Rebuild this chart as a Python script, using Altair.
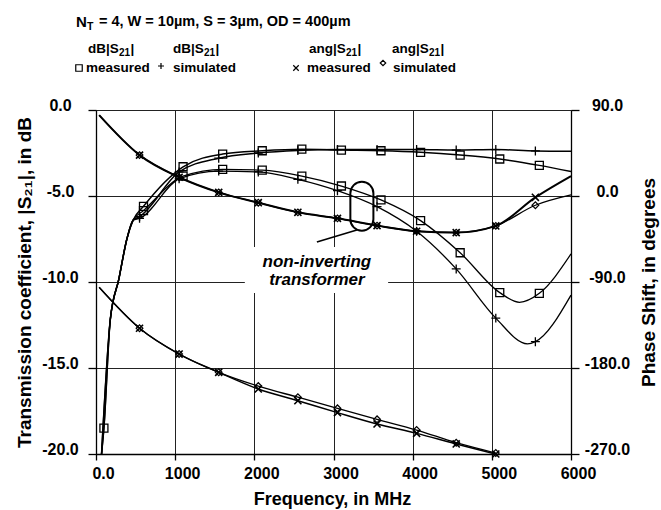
import altair as alt
import pandas as pd

# ---------------- data ----------------
x_ticks = [0, 1000, 2000, 3000, 4000, 5000, 6000]
db_ticks = [0, -5, -10, -15, -20]
deg_ticks = [90, 0, -90, -180, -270]

# measured / simulated frequencies (MHz)
meas_f = [100, 600, 1100, 1600, 2100, 2600, 3100, 3600, 4100, 4600, 5100, 5600]
sim_f = [550, 1050, 1550, 2050, 2550, 3050, 3550, 4050, 4550, 5050, 5550]

# low-frequency rise shared by the magnitude curves (dB)
rise_f = [70, 180, 290, 390, 470]
rise_db = [-20.0, -12.2, -9.8, -7.5, -6.4]

# dB|S21| measured (squares)
magA_meas = [-18.5, -5.6, -3.3, -2.56, -2.37, -2.28, -2.33, -2.37, -2.46, -2.62, -2.85, -3.22]
magB_meas = [-5.85, -3.85, -3.45, -3.5, -3.84, -4.42, -5.23, -6.43, -8.3, -10.62, -10.66]
magA_meas_end = [6000, -3.58]
magB_meas_extra = [[5350, -11.18], [6000, -8.37]]

# dB|S21| simulated (+)
magA_sim = [-6.2, -3.6, -2.8, -2.5, -2.35, -2.3, -2.3, -2.3, -2.33, -2.3, -2.38]
magB_sim = [-6.3, -4.0, -3.55, -3.6, -4.03, -4.69, -5.62, -7.05, -9.24, -12.1, -13.47]
magA_sim_end = [6000, -2.4]
magB_sim_extra = [[5450, -13.6], [6000, -10.76]]

# ang|S21| (degrees), non-inverting (upper) and inverting (lower)
ph_start_f = 40
up_start = 84.6
up_meas = [42.8, 19.6, 3.8, -7.0, -17.1, -23.4, -31.0, -36.9, -38.3, -31.3, -1.4]
up_sim = [42.8, 19.6, 3.8, -7.0, -17.1, -23.4, -31.0, -36.9, -38.3, -31.3, -9.7]
up_meas_end = 20.9
up_sim_end = 1.1
lo_start = -95.6
lo_meas = [-138.4, -165.4, -184.5, -202.0, -214.2, -226.7, -238.6, -248.4, -259.5, -270.0]
lo_sim = [-138.4, -165.4, -184.5, -198.9, -210.6, -222.2, -233.7, -244.9, -258.2, -269.0]

# annotation (data coordinates: MHz, dB)
note_box_f = [1880, 3690]
note_box_db = [-7.97, -10.64]
oval_f = [3213, 3504]
oval_db = [-4.17, -7.02]
pointer_f = [2790, 3295]
pointer_db = [-7.67, -6.98]
note_f = 2790
note_lines = ["non-inverting", "transformer"]
note_db = [-8.84, -9.9]

FONT = "Liberation Sans"
W, H = 475, 344

xs = alt.Scale(domain=[0, 6000], nice=False, zero=False)
ys = alt.Scale(domain=[-20, 0], nice=False, zero=False)
ys2 = alt.Scale(domain=[-270, 90], nice=False, zero=False)

common_axis = dict(
    domainColor="black", domainWidth=1.3, tickColor="black", tickWidth=1.3,
    labelFont=FONT, labelFontSize=16, labelFontWeight="bold", labelColor="black",
    titleFont=FONT, titleFontSize=19, titleFontWeight="bold", titleColor="black",
    gridColor="#222222", gridWidth=1, gridOpacity=1, labelFlush=False,
)

x_axis = alt.Axis(
    values=x_ticks, grid=True, tickSize=6, labelPadding=5, labelOffset=7,
    labelExpr="datum.value == 0 ? '0.0' : '' + datum.value",
    title="Frequency, in MHz", titleX=236, titleY=45, titleBaseline="middle",
    titleAlign="center", **{**common_axis, "titleFontSize": 18})
y_axis_left = alt.Axis(
    values=db_ticks, grid=True, orient="left", tickSize=8, labelPadding=28,
    labelAlign="center", labelBaseline="alphabetic",
    labelExpr="datum.value == 0 ? '0.0' : datum.value + '.0'",
    title="Transmission coefficient, |S₂₁|, in dB", titleX=-72, titleY=172,
    titleAngle=270, titleBaseline="middle", titleAlign="center", **common_axis)
y_axis_right = alt.Axis(
    values=deg_ticks, grid=False, orient="right", tickSize=8, labelPadding=28,
    labelAlign="center", labelBaseline="alphabetic",
    labelExpr="datum.value == 0 ? '0.0' : datum.value + '.0'",
    title="Phase Shift, in degrees", titleX=77, titleY=172,
    titleAngle=270, titleBaseline="middle", titleAlign="center", **common_axis)


def X(field):
    return alt.X(field, scale=xs, axis=x_axis)


def Y(field, right=False):
    if right:
        return alt.Y(field, scale=ys2, axis=y_axis_right)
    return alt.Y(field, scale=ys, axis=y_axis_left)


def df(fs, vs):
    return pd.DataFrame({"f": fs, "v": vs})


def line(d, right=False, sw=1.4):
    return alt.Chart(d).mark_line(color="black", strokeWidth=sw, interpolate="monotone").encode(
        x=X("f:Q"), y=Y("v:Q", right), order="f:Q")


def pts(d, shape, size, sw=1.3, right=False):
    return alt.Chart(d).mark_point(shape=shape, size=size, filled=False, color="black",
                                   strokeWidth=sw, opacity=1).encode(
        x=X("f:Q"), y=Y("v:Q", right))


one = pd.DataFrame({"k": [0]})


def txt(s, x, y, size=13.5, align="left", style="normal"):
    return alt.Chart(one).mark_text(text=s, font=FONT, fontSize=size, fontWeight="bold",
                                    fontStyle=style, align=align, baseline="middle",
                                    color="black").encode(x=alt.value(x), y=alt.value(y))


def s21(prefix, x, y, pw):
    """label like dB|S21| with a real subscript; pw = width of the prefix."""
    return [txt(prefix, x, y), txt("21", x + pw, y + 4, 10), txt("|", x + pw + 11.5, y)]


def sym(shape, x, y, size, sw=1.2):
    return alt.Chart(one).mark_point(shape=shape, size=size, filled=False, color="black",
                                     strokeWidth=sw, opacity=1).encode(x=alt.value(x), y=alt.value(y))


PLUS = "M-1,0L1,0M0,-1L0,1"
CROSS = "M-1,-1L1,1M-1,1L1,-1"


def seg_df(f, v):
    return pd.DataFrame({"f": [f[0]], "f2": [f[1]], "v": [v[0]], "v2": [v[1]]})


# ---------------- left (dB) group ----------------
box = alt.Chart(seg_df(note_box_f, note_box_db)).mark_rect(color="white").encode(
    x=X("f:Q"), x2="f2:Q", y=Y("v:Q"), y2="v2:Q")

magA_meas_line = df([rise_f[0], meas_f[0]] + rise_f[1:] + meas_f[1:] + [magA_meas_end[0]],
                    [rise_db[0], magA_meas[0]] + rise_db[1:] + magA_meas[1:] + [magA_meas_end[1]])
magB_meas_line = df([rise_f[0], meas_f[0]] + rise_f[1:] + meas_f[1:] + [p[0] for p in magB_meas_extra],
                    [rise_db[0], magA_meas[0]] + rise_db[1:] + magB_meas + [p[1] for p in magB_meas_extra])
magA_sim_line = df(rise_f + sim_f + [magA_sim_end[0]], rise_db + magA_sim + [magA_sim_end[1]])
magB_sim_line = df(rise_f + sim_f + [p[0] for p in magB_sim_extra],
                   rise_db + magB_sim + [p[1] for p in magB_sim_extra])

left_layers = [
    box,
    line(magA_meas_line, sw=1.5), line(magB_meas_line, sw=1.3),
    line(magA_sim_line, sw=1.5), line(magB_sim_line, sw=1.3),
    pts(df(meas_f, magA_meas), "square", 64),
    pts(df(meas_f[1:], magB_meas), "square", 64),
    pts(df(sim_f, magA_sim), PLUS, 80),
    pts(df(sim_f, magB_sim), PLUS, 80),
]

oval = alt.Chart(seg_df(oval_f, oval_db)).mark_rect(
    fillOpacity=0, stroke="black", strokeWidth=2, cornerRadius=11.5).encode(
    x=X("f:Q"), x2="f2:Q", y=Y("v:Q"), y2="v2:Q")
pointer = alt.Chart(seg_df(pointer_f, pointer_db)).mark_rule(
    color="black", strokeWidth=1.6).encode(
    x=X("f:Q"), x2="f2:Q", y=Y("v:Q"), y2="v2:Q")
note = alt.Chart(pd.DataFrame({"f": [note_f, note_f], "v": note_db, "t": note_lines})).mark_text(
    font=FONT, fontSize=17, fontWeight="bold", fontStyle="italic", color="black",
    align="center", baseline="middle").encode(x=X("f:Q"), y=Y("v:Q"), text="t:N")

left_layers += [oval, pointer, note]

# title and legend (pixel positions relative to the plot area)
left_layers += [
    txt("N", -20, -88, 15),
    txt("T", -9, -83, 10.5),
    txt("= 4, W = 10µm, S = 3µm, OD = 400µm", 3, -88, 14.5),
    txt("measured", -10, -42), sym("square", -17, -42, 42),
    sym(PLUS, 65, -44, 36), txt("simulated", 77, -42),
    sym(CROSS, 200, -42, 30), txt("measured", 211, -42),
    sym("diamond", 287, -47, 30), txt("simulated", 297, -42),
]
left_layers += s21("dB|S", -8, -61, 31)
left_layers += s21("dB|S", 77, -61, 31)
left_layers += s21("ang|S", 213, -61, 37)
left_layers += s21("ang|S", 296, -61, 37)

left = alt.layer(*left_layers)

# ---------------- right (degrees) group ----------------
right = alt.layer(
    line(df([ph_start_f] + sim_f + [6000], [up_start] + up_meas + [up_meas_end]), True, 2.0),
    line(df([ph_start_f] + sim_f + [6000], [up_start] + up_sim + [up_sim_end]), True, 1.3),
    line(df([ph_start_f] + sim_f[:10], [lo_start] + lo_meas), True, 1.5),
    line(df([ph_start_f] + sim_f[:10], [lo_start] + lo_sim), True, 1.3),
    pts(df(sim_f, up_meas), CROSS, 50, 1.6, True),
    pts(df(sim_f, up_sim), "diamond", 45, 1.2, True),
    pts(df(sim_f[:10], lo_meas), CROSS, 50, 1.6, True),
    pts(df(sim_f[:10], lo_sim), "diamond", 45, 1.2, True),
)

chart = alt.layer(left, right).resolve_scale(y="independent").properties(
    width=W, height=H,
    autosize=alt.AutoSizeParams(type="none"),
    padding={"left": 96, "top": 110, "right": 90, "bottom": 56},
    background="white",
).configure_view(stroke=None)

chart.save("out.html", embed_options={"renderer": "svg", "actions": False})
